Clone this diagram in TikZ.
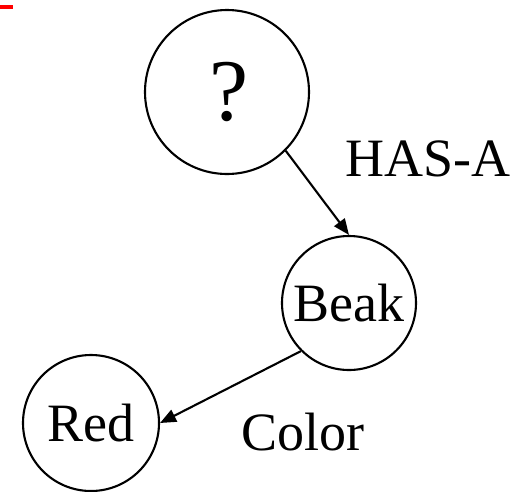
\documentclass[tikz,border=0pt]{standalone}
\usepackage{fontspec}
\setmainfont{Liberation Serif}
\usetikzlibrary{arrows.meta}
\begin{document}
\begin{tikzpicture}[x=1pt,y=-1pt,
  concept/.style={draw,circle,line width=2.1pt,inner sep=0pt,font=\fontsize{54}{60}\selectfont},
  link/.style={line width=2.1pt,-{Triangle[length=16pt,width=13pt]}},
  relname/.style={anchor=base west,inner sep=0pt,font=\fontsize{54}{60}\selectfont}]
  \useasboundingbox (0,0) rectangle (527,491);
  % small red marker in the corner
  \fill[red] (0,5) rectangle (13,9);
  % concepts
  \node[concept,minimum size=164pt,font=\fontsize{88}{92}\selectfont] (q) at (227,92) {\hspace*{5pt}?};
  \node[concept,minimum size=134pt] (beak) at (349,303) {Beak};
  \node[concept,minimum size=136pt] (red) at (91,423) {Red};
  % relations
  \draw[link] (q.south east) -- (beak.north);
  \draw[link] (beak.south west) -- (red.east);
  \node[relname] (hasa) at (345,176) {HAS-A};
  \node[relname] (color) at (241,450) {Color};
\end{tikzpicture}
\end{document}
